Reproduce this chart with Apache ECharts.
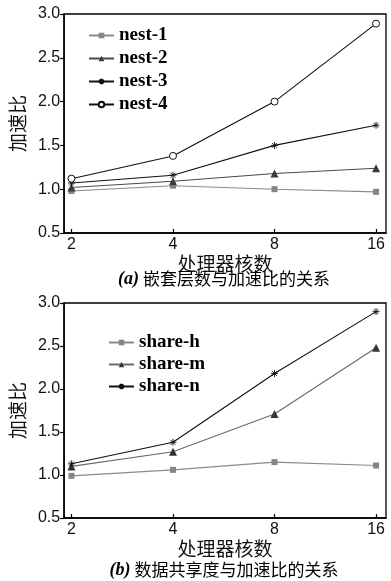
<!DOCTYPE html>
<html>
<head>
<meta charset="utf-8">
<script src="https://cdn.jsdelivr.net/npm/echarts@6/dist/echarts.min.js"></script>
<style>html,body{margin:0;padding:0;background:#fff}#c{width:391px;height:581px}</style>
</head>
<body>
<div id="c"></div>
<script>
const categories = ['2', '4', '8', '16'];
const yTicks = [0.5, 1.0, 1.5, 2.0, 2.5, 3.0];
const nest1 = [0.98, 1.04, 1.00, 0.97];
const nest2 = [1.02, 1.09, 1.18, 1.24];
const nest3 = [1.07, 1.16, 1.50, 1.73];
const nest4 = [1.12, 1.38, 2.00, 2.89];
const shareH = [0.99, 1.06, 1.15, 1.11];
const shareM = [1.10, 1.27, 1.71, 2.48];
const shareN = [1.13, 1.38, 2.18, 2.90];
const namesA = ['nest-1', 'nest-2', 'nest-3', 'nest-4'];
const namesB = ['share-h', 'share-m', 'share-n'];
const xTitle = '处理器核数';
const yTitle = '加速比';
const captionA = ['(a)', ' 嵌套层数与加速比的关系'];
const captionB = ['(b)', ' 数据共享度与加速比的关系'];

const idx = categories.map((c, i) => i);
const toPts = arr => arr.map((v, i) => [idx[i], v]);
const STAR = 'path://M0,5L10,5M5,0L5,10M1.5,1.5L8.5,8.5M8.5,1.5L1.5,8.5';
const LF = '"Liberation Sans", Arial, sans-serif';
const CJK = '"Noto Sans CJK SC", sans-serif';

function xAx(gi) {
  return {
    type: 'value', gridIndex: gi, min: -0.072, max: 3.098,
    name: xTitle, nameLocation: 'middle', nameGap: 19,
    nameTextStyle: { fontFamily: CJK, fontSize: 19, color: '#111' },
    axisLine: { show: true, onZero: false, lineStyle: { color: '#000', width: 1.5 } },
    axisTick: { show: true, inside: true, length: 4, customValues: idx, lineStyle: { color: '#000', width: 1.2 } },
    axisLabel: { customValues: idx, margin: 4, fontFamily: LF, fontSize: 16, color: '#111',
      formatter: v => categories[Math.round(v)] },
    splitLine: { show: false }
  };
}
function yAx(gi) {
  return {
    type: 'value', gridIndex: gi, min: yTicks[0], max: yTicks[yTicks.length - 1], interval: 0.5,
    name: yTitle, nameLocation: 'middle', nameRotate: 90, nameGap: 30,
    nameTextStyle: { fontFamily: CJK, fontSize: 19, color: '#111' },
    axisLine: { show: true, onZero: false, lineStyle: { color: '#000', width: 1.5 } },
    axisTick: { show: true, inside: false, length: 4, lineStyle: { color: '#000', width: 1.2 } },
    axisLabel: { margin: 4, fontFamily: LF, fontSize: 16, color: '#111', formatter: v => v.toFixed(1) },
    splitLine: { show: false }
  };
}
function ser(name, gi, data, symbol, size, lineColor, symColor, extra) {
  return Object.assign({
    name, type: 'line', xAxisIndex: gi, yAxisIndex: gi, data: toPts(data),
    symbol, symbolSize: size, showAllSymbol: true,
    lineStyle: { color: lineColor, width: 1.1 },
    itemStyle: { color: symColor },
    emphasis: { disabled: true }, animation: false
  }, extra || {});
}
const starStyle = c => ({ itemStyle: { color: 'rgba(0,0,0,0)', borderColor: c, borderWidth: 0.9 } });
const legendText = { fontFamily: '"Liberation Serif", "Times New Roman", serif', fontWeight: 'bold', fontSize: 19, color: '#000', lineHeight: 18 };
const capRich = {
  i: { fontFamily: '"Liberation Serif", serif', fontStyle: 'italic', fontWeight: 'bold', fontSize: 18, color: '#000' },
  c: { fontFamily: CJK, fontWeight: 'normal', fontSize: 17, color: '#000' }
};

const chart = echarts.init(document.getElementById('c'), null, { renderer: 'canvas' });
chart.setOption({
  animation: false,
  backgroundColor: '#fff',
  grid: [
    { left: 63, right: 5, top: 14, height: 219, show: true, borderColor: '#000', borderWidth: 1.3, containLabel: false },
    { left: 63, right: 5, top: 303, height: 215, show: true, borderColor: '#000', borderWidth: 1.3, containLabel: false }
  ],
  title: [
    { text: '{i|' + captionA[0] + '}{c|' + captionA[1] + '}', left: 224, top: 270, textAlign: 'center', padding: 0,
      textStyle: { fontWeight: 'normal', rich: capRich } },
    { text: '{i|' + captionB[0] + '}{c|' + captionB[1] + '}', left: 224, top: 561, textAlign: 'center', padding: 0,
      textStyle: { fontWeight: 'normal', rich: capRich } }
  ],
  legend: [
    { data: namesA, orient: 'vertical', left: 88, top: 26, itemWidth: 25, itemHeight: 7, itemGap: 4,
      padding: 0, selectedMode: false, textStyle: legendText },
    { data: namesB, orient: 'vertical', left: 108, top: 333, itemWidth: 25, itemHeight: 7, itemGap: 3,
      padding: 0, selectedMode: false, textStyle: legendText }
  ],
  xAxis: [xAx(0), xAx(1)],
  yAxis: [yAx(0), yAx(1)],
  series: [
    ser(namesA[0], 0, nest1, 'rect', 6, '#8a8a8a', '#858585'),
    ser(namesA[1], 0, nest2, 'triangle', 8, '#4a4a4a', '#3a3a3a'),
    ser(namesA[2], 0, nest3, STAR, 7, '#111', '#111', starStyle('#111')),
    ser(namesA[3], 0, nest4, 'circle', 7, '#111', '#fff', { itemStyle: { color: '#fff', borderColor: '#111', borderWidth: 1 } }),
    ser(namesB[0], 1, shareH, 'rect', 6, '#8a8a8a', '#858585'),
    ser(namesB[1], 1, shareM, 'triangle', 8, '#6a6a6a', '#333'),
    ser(namesB[2], 1, shareN, STAR, 7, '#111', '#111', starStyle('#111'))
  ]
});
</script>
</body>
</html>
